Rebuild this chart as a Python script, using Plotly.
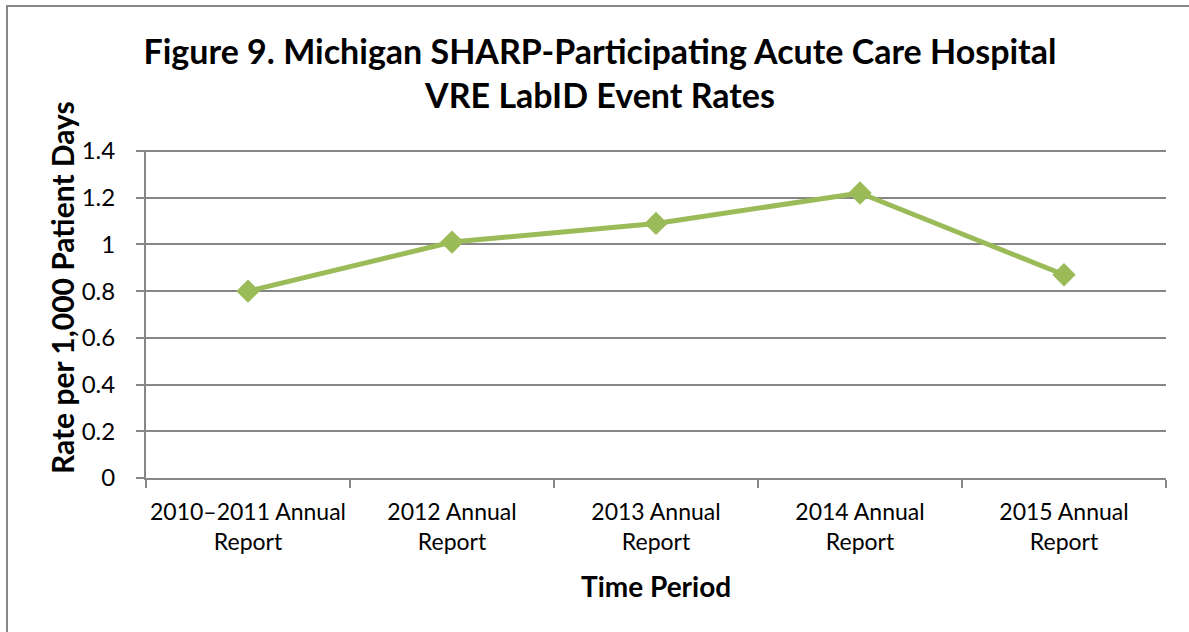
import plotly.graph_objects as go

categories = ["2010–2011 Annual<br>Report", "2012 Annual<br>Report", "2013 Annual<br>Report",
              "2014 Annual<br>Report", "2015 Annual<br>Report"]
rates = [0.80, 1.01, 1.09, 1.22, 0.87]
y_ticks = [0, 0.2, 0.4, 0.6, 0.8, 1, 1.2, 1.4]
y_tick_labels = ["0", "0.2", "0.4", "0.6", "0.8", "1", "1.2", "1.4"]

GREEN = "#9BBB59"
GRID = "#868686"
FONT = "Lato"

fig = go.Figure()
fig.add_trace(go.Scatter(
    x=categories, y=rates, mode="lines+markers",
    line=dict(color=GREEN, width=5),
    marker=dict(symbol="diamond", size=18, color=GREEN),
    showlegend=False, cliponaxis=False,
))

L, R, T, B = 146, 23, 151, 154
W, H = 1189, 632
pw, ph = W - L - R, H - T - B

def px(x):
    return (x - L) / pw

def py(y):
    return (H - B - y) / ph

fig.update_layout(
    width=W, height=H,
    margin=dict(l=L, r=R, t=T, b=B, autoexpand=False),
    paper_bgcolor="white", plot_bgcolor="white",
    font=dict(family=FONT, color="black", size=24),
    title=dict(
        text="<b>Figure 9. Michigan SHARP-Participating Acute Care Hospital<br>VRE LabID Event Rates</b>",
        x=px(600), xref="paper", xanchor="center",
        y=1 - 64 / H, yref="container", yanchor="middle",
        font=dict(family=FONT, size=34, color="black"),
    ),
    xaxis=dict(
        type="category", range=[-0.5, 4.5], automargin=False,
        showline=True, linecolor=GRID, linewidth=2,
        ticks="outside", tickson="boundaries", ticklen=8, tickwidth=2, tickcolor=GRID,
        showgrid=False, ticklabelstandoff=12, tickangle=0,
        tickfont=dict(family=FONT, size=23, color="black"),
    ),
    yaxis=dict(
        range=[0, 1.4], tickvals=y_ticks, ticktext=y_tick_labels, automargin=False,
        showline=True, linecolor=GRID, linewidth=2,
        ticks="outside", ticklen=8, tickwidth=2, tickcolor=GRID,
        showgrid=True, gridcolor=GRID, gridwidth=2,
        zeroline=False, ticklabelstandoff=16,
        tickfont=dict(family=FONT, size=24, color="black"),
    ),
    annotations=[
        dict(text="<b>Time Period</b>", xref="paper", yref="paper", x=0.5, y=py(586),
             xanchor="center", yanchor="middle", showarrow=False,
             font=dict(family=FONT, size=28, color="black")),
        dict(text="<b>Rate per 1,000 Patient Days</b>", xref="paper", yref="paper", x=px(62), y=py(288),
             xanchor="center", yanchor="middle", showarrow=False, textangle=-90,
             font=dict(family=FONT, size=30, color="black")),
    ],
    shapes=[
        dict(type="line", xref="paper", yref="paper", x0=px(138), x1=1.0, y0=1, y1=1,
             line=dict(color=GRID, width=2), layer="below"),
        dict(type="rect", xref="paper", yref="paper", x0=px(7), x1=px(W + 20), y0=py(H + 20), y1=py(6),
             line=dict(color=GRID, width=2), fillcolor="rgba(0,0,0,0)", layer="below"),
    ],
)

fig.write_html("out.html", config={"displayModeBar": False},
               post_script="document.body.style.margin='0';document.body.style.overflow='hidden';")
